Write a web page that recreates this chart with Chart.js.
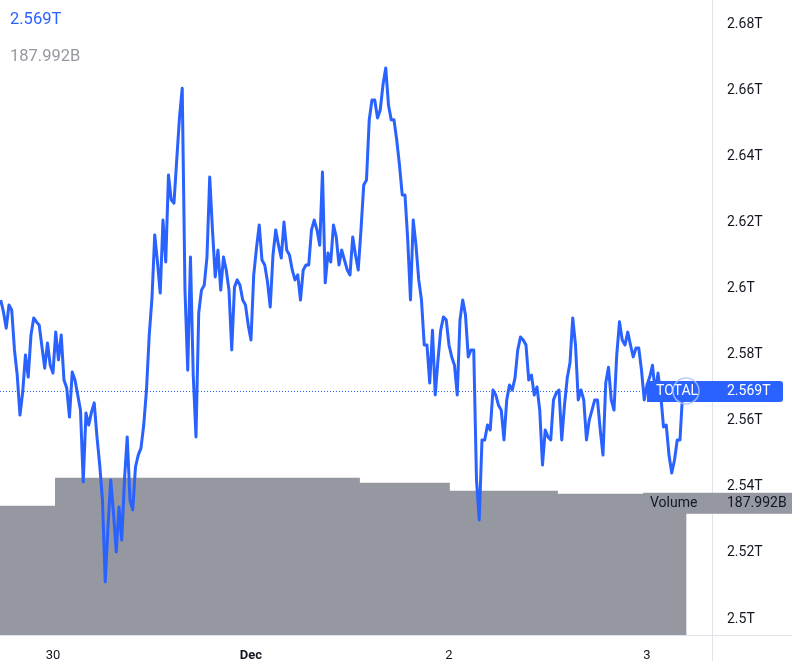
<!DOCTYPE html>
<html>
<head>
<meta charset="utf-8">
<script src="https://cdn.jsdelivr.net/npm/chart.js@4.4.1/dist/chart.umd.min.js"></script>
<style>
  body { margin: 0; background: #fff; }
  #wrap { width: 792px; height: 661px; }
</style>
</head>
<body>
<div id="wrap"><canvas id="totalChart" width="792" height="661"></canvas></div>
<script>
// TOTAL market cap (trillions), one value every 20 min starting Nov 29 17:40
const startHour = -6.333;   // hours from Nov 30 00:00
const stepHour = 1 / 3;
const totalValues = [
  2.5965, 2.5929, 2.5880, 2.5950, 2.5935, 2.5814, 2.5738, 2.5617, 2.5687, 2.5799,
  2.5732, 2.5859, 2.5911, 2.5899, 2.5889, 2.5823, 2.5759, 2.5835, 2.5768, 2.5744,
  2.5868, 2.5784, 2.5859, 2.5723, 2.5699, 2.5611, 2.5747, 2.5723, 2.5678, 2.5632,
  2.5415, 2.5623, 2.5587, 2.5626, 2.5654, 2.5551, 2.5466, 2.5360, 2.5112, 2.5278,
  2.5421, 2.5321, 2.5203, 2.5339, 2.5239, 2.5421, 2.5551, 2.5360, 2.5330, 2.5460,
  2.5496, 2.5517, 2.5587, 2.5693, 2.5859, 2.5971, 2.6162, 2.6080, 2.5986, 2.6207,
  2.6080, 2.6343, 2.6268, 2.6258, 2.6389, 2.6516, 2.6606, 2.5995, 2.5753, 2.6095,
  2.5738, 2.5551, 2.5926, 2.5995, 2.6010, 2.6095, 2.6337, 2.6177, 2.6035, 2.6116,
  2.5995, 2.6095, 2.6056, 2.5995, 2.5814, 2.6004, 2.6026, 2.6010, 2.5965, 2.5950,
  2.5889, 2.5844, 2.6041, 2.6122, 2.6192, 2.6086, 2.6071, 2.6020, 2.5944, 2.6101,
  2.6177, 2.6131, 2.6092, 2.6201, 2.6116, 2.6101, 2.6056, 2.6026, 2.6041, 2.5965,
  2.6056, 2.6071, 2.6071, 2.6177, 2.6207, 2.6177, 2.6131, 2.6352, 2.6017, 2.6107,
  2.6080, 2.6192, 2.6156, 2.6071, 2.6116, 2.6086, 2.6056, 2.6041, 2.6156, 2.6101,
  2.6056, 2.6177, 2.6313, 2.6328, 2.6510, 2.6570, 2.6570, 2.6516, 2.6540, 2.6616,
  2.6667, 2.6555, 2.6510, 2.6510, 2.6449, 2.6373, 2.6283, 2.6283, 2.6147, 2.5965,
  2.6207, 2.6131, 2.6026, 2.5965, 2.5829, 2.5829, 2.5714, 2.5874, 2.5678, 2.5784,
  2.5874, 2.5914, 2.5905, 2.5829, 2.5793, 2.5768, 2.5678, 2.5905, 2.5965, 2.5920,
  2.5793, 2.5814, 2.5814, 2.5421, 2.5300, 2.5542, 2.5542, 2.5587, 2.5572, 2.5693,
  2.5678, 2.5647, 2.5632, 2.5542, 2.5663, 2.5708, 2.5693, 2.5729, 2.5814, 2.5853,
  2.5844, 2.5829, 2.5723, 2.5738, 2.5678, 2.5702, 2.5632, 2.5466, 2.5572, 2.5551,
  2.5542, 2.5663, 2.5684, 2.5693, 2.5542, 2.5647, 2.5729, 2.5775, 2.5911, 2.5829,
  2.5663, 2.5693, 2.5663, 2.5542, 2.5602, 2.5632, 2.5663, 2.5663, 2.5572, 2.5496,
  2.5714, 2.5762, 2.5663, 2.5632, 2.5799, 2.5899, 2.5844, 2.5829, 2.5868, 2.5829,
  2.5793, 2.5820, 2.5820, 2.5753, 2.5663, 2.5708, 2.5732, 2.5768, 2.5684, 2.5744,
  2.5678, 2.5581, 2.5587, 2.5496, 2.5442, 2.5481, 2.5542, 2.5542, 2.5690
];

// volume (billions), each value holds until the next hour mark
const volumeHours = [-6.42, 0.25, 37.2, 48.1, 61.2, 76.8];
const volumeValues = [172.0, 209.3, 202.7, 192.0, 187.992, 187.992];

const xTickHours = [0, 24, 48, 72];
const xTickLabels = ['30', 'Dec', '2', '3'];
const yTicks = [2.5, 2.52, 2.54, 2.56, 2.58, 2.6, 2.62, 2.64, 2.66, 2.68];

const lastTotal = 2.569;
const lastTotalText = '2.569T';
const lastVolumeText = '187.992B';

const BLUE = '#2962ff';
const GREY = '#9598a1';
const TEXT = '#131722';
const LINE = '#e0e3eb';
const FONT = 'Roboto, "DejaVu Sans", sans-serif';

var ctxEl = document.getElementById('totalChart');

const totalPoints = totalValues.map((v, i) => ({ x: startHour + i * stepHour, y: v }));
const volumePoints = volumeValues.map((v, i) => ({ x: volumeHours[i], y: v }));

// no extra room for half labels at the ends of the axes
function noPad(s) {
  s.paddingTop = 0; s.paddingBottom = 0; s.paddingLeft = 0; s.paddingRight = 0;
}

const overlay = {
  id: 'overlay',
  beforeDatasetsDraw(chart) {
    const c = chart.ctx;
    const area = chart.chartArea;
    const y = Math.round(chart.scales.y.getPixelForValue(lastTotal)) + 0.5;
    c.save();
    c.strokeStyle = BLUE;
    c.lineWidth = 1;
    c.setLineDash([1, 2]);
    c.beginPath();
    c.moveTo(area.left, y);
    c.lineTo(area.right, y);
    c.stroke();
    c.restore();
  },
  afterDraw(chart) {
    const c = chart.ctx;
    const area = chart.chartArea;
    const W = chart.width, H = chart.height;
    c.save();
    // pane separators
    c.strokeStyle = LINE;
    c.lineWidth = 1;
    c.beginPath();
    c.moveTo(area.right + 0.5, 0);
    c.lineTo(area.right + 0.5, H);
    c.moveTo(0, area.bottom + 0.5);
    c.lineTo(W, area.bottom + 0.5);
    c.stroke();

    // last value label for TOTAL
    const yT = chart.scales.y.getPixelForValue(lastTotal);
    c.fillStyle = BLUE;
    c.beginPath();
    c.roundRect(647, yT - 10, 136, 21, [0, 3, 3, 0]);
    c.fill();
    c.font = '14px ' + FONT;
    c.textBaseline = 'middle';
    c.textAlign = 'left';
    c.fillStyle = '#fff';
    c.fillText('TOTAL', 656, yT + 1);
    c.fillText(lastTotalText, area.right + 15, yT + 1);
    c.strokeStyle = 'rgba(170,195,255,0.85)';
    c.lineWidth = 1.5;
    c.beginPath();
    c.arc(686, yT, 13, 0, Math.PI * 2);
    c.stroke();

    // last value label for Volume
    const yV = chart.scales.y2.getPixelForValue(volumeValues[volumeValues.length - 1]);
    c.fillStyle = GREY;
    c.fillRect(643, yV - 1, W - 643, 21);
    c.fillStyle = TEXT;
    c.fillText('Volume', 650, yV + 10);
    c.fillText(lastVolumeText, area.right + 15, yV + 10);

    // legend values at top left
    c.font = '16.5px ' + FONT;
    c.fillStyle = BLUE;
    c.fillText(lastTotalText, 10, 20);
    c.fillStyle = GREY;
    c.fillText(lastVolumeText, 10, 57);
    c.restore();
  }
};

const totalChart = new Chart(ctxEl, {
  type: 'line',
  data: {
    datasets: [{
      data: totalPoints,
      borderColor: BLUE,
      borderWidth: 3,
      borderJoinStyle: 'round',
      pointRadius: 0,
      tension: 0,
      yAxisID: 'y'
    }, {
      data: volumePoints,
      stepped: 'before',
      borderWidth: 0,
      backgroundColor: GREY,
      fill: 'origin',
      pointRadius: 0,
      yAxisID: 'y2'
    }]
  },
  plugins: [overlay],
  options: {
    responsive: false,
    animation: false,
    events: [],
    layout: { padding: 0 },
    plugins: {
      legend: { display: false },
      tooltip: { enabled: false }
    },
    scales: {
      x: {
        type: 'linear',
        min: -6.42,
        max: 79.88,
        grid: { display: false, drawTicks: false },
        border: { display: false },
        afterBuildTicks: (s) => { s.ticks = xTickHours.map(v => ({ value: v })); },
        afterFit: (s) => { s.height = 26; noPad(s); },
        ticks: {
          padding: 13,
          maxRotation: 0,
          color: TEXT,
          font: (ctx) => ({ family: FONT, size: 13, weight: ctx.index === 1 ? 'bold' : 'normal' }),
          callback: (v, i) => xTickLabels[i]
        }
      },
      y: {
        position: 'right',
        min: 2.49518,
        max: 2.68726,
        grid: { display: false, drawTicks: false },
        border: { display: false },
        afterBuildTicks: (s) => { s.ticks = yTicks.map(v => ({ value: v })); },
        afterFit: (s) => { s.width = 80; noPad(s); },
        ticks: {
          padding: 15,
          color: TEXT,
          font: { family: FONT, size: 14 },
          callback: (v) => (+v.toFixed(2)) + 'T'
        }
      },
      y2: {
        display: false,
        min: 0,
        max: 845.3
      }
    }
  }
});
</script>
</body>
</html>
